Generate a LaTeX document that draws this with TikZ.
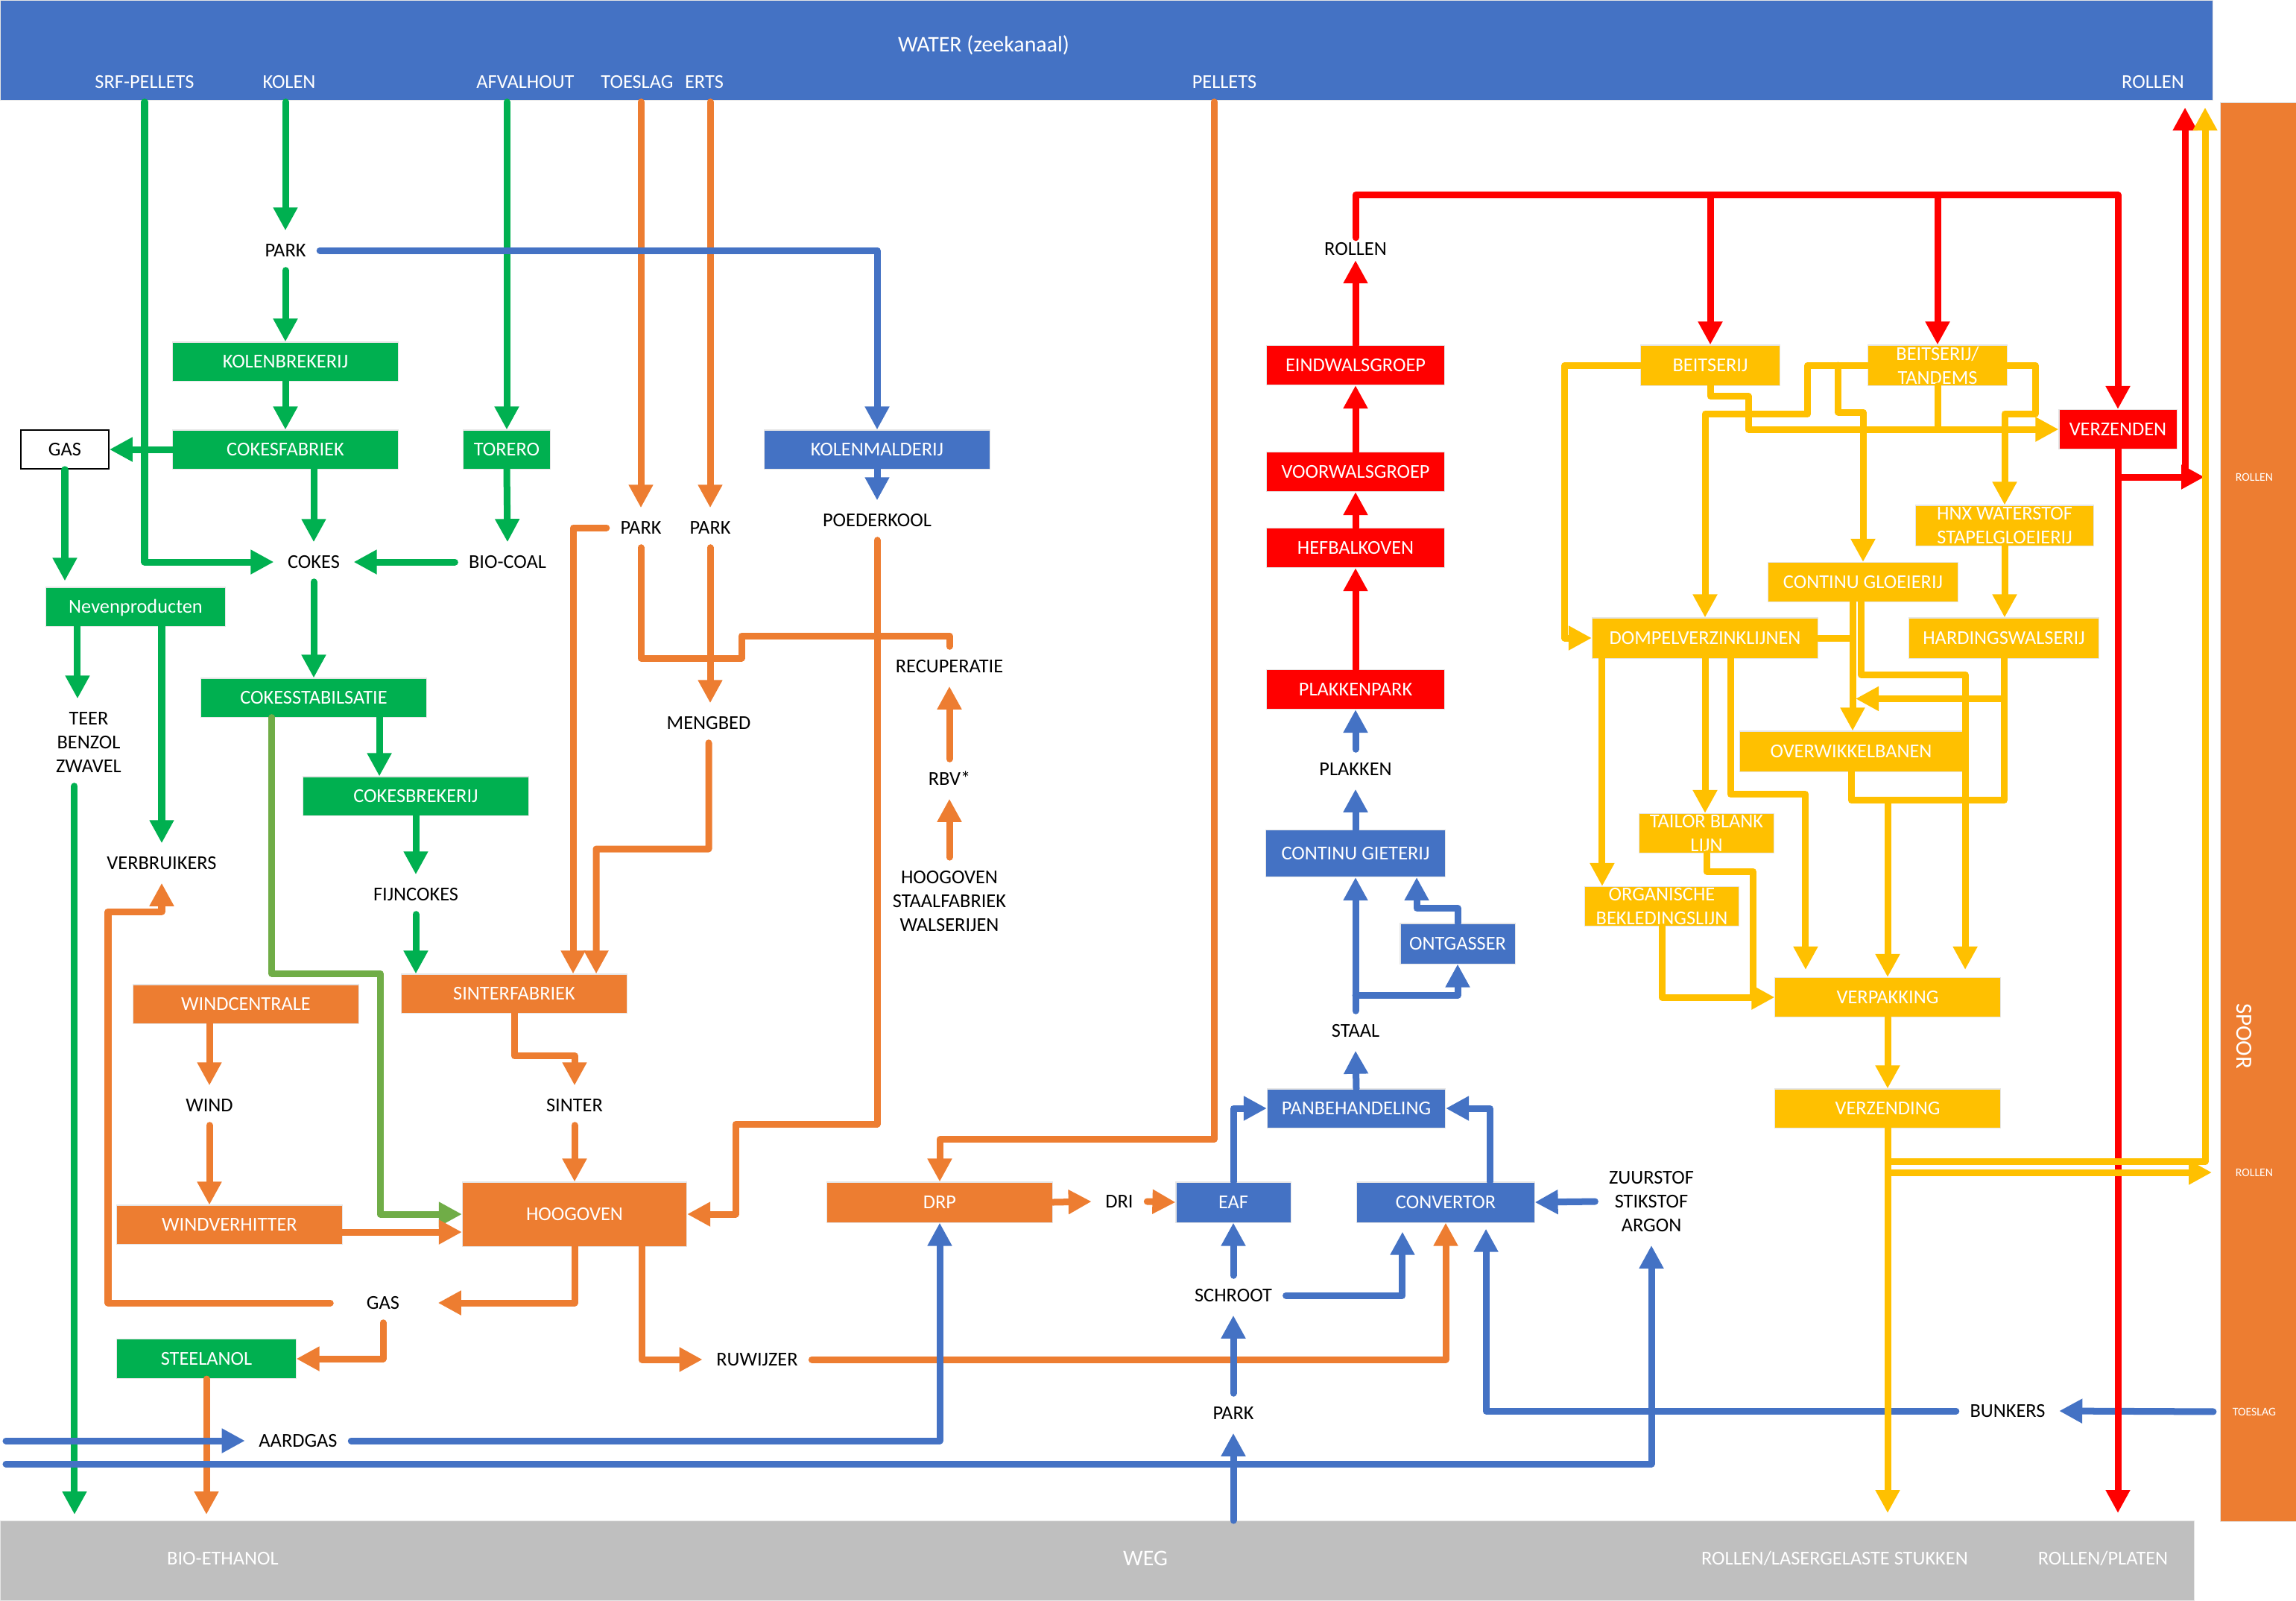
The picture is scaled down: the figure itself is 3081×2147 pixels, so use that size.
\documentclass[tikz,border=0pt]{standalone}
\usepackage{fontspec}
\setmainfont{Carlito}
\usetikzlibrary{arrows.meta}

\definecolor{waterblue}{HTML}{4472C4}
\definecolor{steelorange}{HTML}{ED7D31}
\definecolor{cokesgreen}{HTML}{00B050}
\definecolor{leafgreen}{HTML}{70AD47}
\definecolor{rollred}{HTML}{FF0000}
\definecolor{coatyellow}{HTML}{FFC000}
\definecolor{roadgrey}{HTML}{BFBFBF}

\newcommand{\diagfont}{\fontsize{7.5}{9.1}\selectfont}
\newcommand{\barfont}{\fontsize{8.5}{10}\selectfont}
\newcommand{\railfont}{\fontsize{4.5}{5.5}\selectfont}
\newcommand{\spoorfont}{\fontsize{8.8}{10}\selectfont}

\tikzset{
  plant/.style={rectangle, draw=black!10, line width=0.3pt, text=white, font=\diagfont, inner sep=0pt, text height=0.17cm, text depth=0cm, minimum height=0.53cm},
  green-plant/.style={plant, fill=cokesgreen},
  orange-plant/.style={plant, fill=steelorange},
  blue-plant/.style={plant, fill=waterblue},
  red-plant/.style={plant, fill=rollred},
  yellow-plant/.style={plant, fill=coatyellow},
  plant-text/.style={text=white, font=\diagfont, align=center, inner sep=0pt},
  product/.style={font=\diagfont, inner xsep=0.18cm, inner ysep=0.175cm, text height=0.17cm, text depth=0cm},
  products/.style={font=\diagfont, align=center, inner xsep=0.18cm, inner ysep=0.175cm},
  bar-label/.style={product, text=white},
  rail-label/.style={text=white, font=\railfont, inner sep=0pt},
  band/.style={rectangle, draw=black!10, line width=0.3pt, inner sep=0pt, anchor=north west},
  pipe/.style={line width=0.09cm, line cap=round, line join=round},
  feed/.style={pipe, -{Triangle[length=0.31cm,width=0.31cm]}},
}

\begin{document}
\begin{tikzpicture}[x=0.01cm, y=-0.01cm]
    \fill[white] (0,0) rectangle (3081,2147);
    \useasboundingbox (0,0) rectangle (3081,2147);

    %Place water band
    \node[band, fill=waterblue, minimum width=29.67cm, minimum height=1.34cm] (water) at (0,0) {};
    \node[text=white, font=\barfont] (water-title) at (1320,61) {WATER (zeekanaal)};
    \node[bar-label] (srf-pellets) at (194,110) {SRF-PELLETS};
    \node[bar-label] (kolen) at (388,110) {KOLEN};
    \node[bar-label] (afvalhout) at (705,110) {AFVALHOUT};
    \node[bar-label] (toeslag) at (855,110) {TOESLAG};
    \node[bar-label] (erts) at (945,110) {ERTS};
    \node[bar-label] (pellets) at (1643,110) {PELLETS};
    \node[bar-label] (rollen-water) at (2889,110) {ROLLEN};

    %Place rail band
    \node[band, fill=steelorange, minimum width=1.02cm, minimum height=19.03cm] (spoor) at (2979,137) {};
    \node[text=white, font=\spoorfont, rotate=-90] (spoor-title) at (3011,1390) {SPOOR};
    \node[rail-label] (rollen-spoor-1) at (3025,640) {ROLLEN};
    \node[rail-label] (rollen-spoor-2) at (3025,1573) {ROLLEN};
    \node[rail-label] (toeslag-spoor) at (3025,1894) {TOESLAG};

    %Place road band
    \node[band, fill=roadgrey, minimum width=29.42cm, minimum height=1.07cm] (weg) at (0,2040) {};
    \node[text=white, font=\diagfont] (bio-ethanol) at (299,2091) {BIO-ETHANOL};
    \node[text=white, font=\barfont] (weg-title) at (1537,2091) {WEG};
    \node[text=white, font=\diagfont] (rollen-stukken) at (2462,2091) {ROLLEN/LASERGELASTE STUKKEN};
    \node[text=white, font=\diagfont] (rollen-platen) at (2822,2091) {ROLLEN/PLATEN};

    %Place cokes nodes
    \node[product] (park-kolen) at (383,336) {PARK};
    \node[green-plant, minimum width=3.02cm, minimum height=0.52cm] (kolenbrekerij) at (383,485) {KOLENBREKERIJ};
    \node[green-plant, minimum width=3.02cm, minimum height=0.52cm] (cokesfabriek) at (383,603) {COKESFABRIEK};
    \node[green-plant, minimum width=1.17cm, minimum height=0.52cm] (torero) at (680,603) {TORERO};
    \node[rectangle, draw=black, line width=0.5pt, fill=white, font=\diagfont, text height=0.17cm, text depth=0cm, minimum width=1.18cm, minimum height=0.52cm] (gas-cokes) at (87,603) {GAS};
    \node[product] (cokes) at (421,754) {COKES};
    \node[product] (bio-coal) at (681,754) {BIO-COAL};
    \node[green-plant, minimum width=2.40cm, minimum height=0.52cm] (nevenproducten) at (182,814) {Nevenproducten};
    \node[products] (teer) at (119,996) {TEER\\BENZOL\\ZWAVEL};
    \node[green-plant, minimum width=3.02cm, minimum height=0.52cm] (cokesstabilsatie) at (421,936) {COKESSTABILSATIE};
    \node[green-plant, minimum width=3.02cm, minimum height=0.52cm] (cokesbrekerij) at (558,1068) {COKESBREKERIJ};
    \node[product] (verbruikers) at (217,1158) {VERBRUIKERS};
    \node[product] (fijncokes) at (558,1200) {FIJNCOKES};
    \node[green-plant, minimum width=2.40cm] (steelanol) at (277,1823) {STEELANOL};

    %Place iron nodes
    \node[product] (park-toeslag) at (860,708) {PARK};
    \node[product] (park-erts) at (953,708) {PARK};
    \node[blue-plant, minimum width=3.02cm, minimum height=0.52cm] (kolenmalderij) at (1177,603) {KOLENMALDERIJ};
    \node[product] (poederkool) at (1177,698) {POEDERKOOL};
    \node[product] (mengbed) at (951,970) {MENGBED};
    \node[product] (recuperatie) at (1274,894) {RECUPERATIE};
    \node[product] (rbv) at (1274,1045) {RBV*};
    \node[products] (bronnen) at (1274,1209) {HOOGOVEN\\STAALFABRIEK\\WALSERIJEN};
    \node[orange-plant, minimum width=3.03cm, minimum height=0.52cm] (windcentrale) at (330,1347) {WINDCENTRALE};
    \node[orange-plant, minimum width=3.02cm, minimum height=0.52cm] (sinterfabriek) at (690,1333) {SINTERFABRIEK};
    \node[product] (wind) at (281,1483) {WIND};
    \node[product] (sinter) at (771,1483) {SINTER};
    \node[orange-plant, minimum width=3.02cm, minimum height=0.52cm] (windverhitter) at (308,1643) {WINDVERHITTER};
    \node[orange-plant, minimum width=3.01cm, minimum height=0.86cm] (hoogoven) at (771,1629) {HOOGOVEN};
    \node[product] (gas-hoogoven) at (514,1748) {GAS};
    \node[product] (ruwijzer) at (1016,1824) {RUWIJZER};
    \node[product] (aardgas) at (400,1933) {AARDGAS};
    \coordinate (aardgas-in) at (8,1933);
    \coordinate (gassen-in) at (8,1964);

    %Place steel nodes
    \node[orange-plant, minimum width=3.02cm, minimum height=0.54cm] (drp) at (1261,1613) {DRP};
    \node[product] (dri) at (1502,1612) {DRI};
    \node[blue-plant, minimum width=1.54cm, minimum height=0.54cm] (eaf) at (1655,1613) {EAF};
    \node[blue-plant, minimum width=2.38cm, minimum height=0.54cm] (convertor) at (1940,1613) {CONVERTOR};
    \node[products] (gassen) at (2216,1612) {ZUURSTOF\\STIKSTOF\\ARGON};
    \node[product] (schroot) at (1655,1738) {SCHROOT};
    \node[product] (park-schroot) at (1655,1896) {PARK};
    \node[product] (bunkers) at (2694,1893) {BUNKERS};
    \node[blue-plant, minimum width=2.39cm, minimum height=0.52cm] (panbehandeling) at (1820,1487) {PANBEHANDELING};
    \node[product] (staal) at (1819,1383) {STAAL};
    \node[blue-plant, minimum width=1.54cm, minimum height=0.54cm] (ontgasser) at (1956,1266) {ONTGASSER};
    \node[blue-plant, minimum width=2.40cm, minimum height=0.63cm] (continu-gieterij) at (1819,1145) {CONTINU GIETERIJ};
    \node[product] (plakken) at (1819,1032) {PLAKKEN};

    %Place rolling nodes
    \node[red-plant, minimum width=2.38cm] (plakkenpark) at (1819,925) {PLAKKENPARK};
    \node[red-plant, minimum width=2.38cm] (hefbalkoven) at (1819,735) {HEFBALKOVEN};
    \node[red-plant, minimum width=2.38cm] (voorwalsgroep) at (1819,633) {VOORWALSGROEP};
    \node[red-plant, minimum width=2.38cm] (eindwalsgroep) at (1819,490) {EINDWALSGROEP};
    \node[product, inner ysep=0.06cm] (rollen) at (1819,334) {ROLLEN};
    \node[red-plant, minimum width=1.58cm] (verzenden) at (2842,576) {VERZENDEN};

    %Place finishing nodes
    \node[yellow-plant, minimum width=1.87cm, minimum height=0.54cm] (beitserij) at (2295,490) {BEITSERIJ};
    \node[yellow-plant, minimum width=1.87cm, minimum height=0.54cm] (tandems) at (2600,490) {};
    \node[plant-text] (tandems-text) at (tandems) {BEITSERIJ/\\TANDEMS};
    \node[yellow-plant, minimum width=2.39cm, minimum height=0.54cm] (hnx) at (2690,705) {};
    \node[plant-text] (hnx-text) at (hnx) {HNX WATERSTOF\\STAPELGLOEIERIJ};
    \node[yellow-plant, minimum width=2.55cm] (continu-gloeierij) at (2500,781) {CONTINU GLOEIERIJ};
    \node[yellow-plant, minimum width=3.03cm, minimum height=0.54cm] (dompelverzinklijnen) at (2288,856) {DOMPELVERZINKLIJNEN};
    \node[yellow-plant, minimum width=2.54cm, minimum height=0.54cm] (hardingswalserij) at (2689,856) {HARDINGSWALSERIJ};
    \node[yellow-plant, minimum width=2.98cm, minimum height=0.54cm] (overwikkelbanen) at (2484,1008) {OVERWIKKELBANEN};
    \node[yellow-plant, minimum width=1.81cm] (tailor-blank) at (2290,1118) {};
    \node[plant-text] (tailor-blank-text) at (tailor-blank) {TAILOR BLANK\\LIJN};
    \node[yellow-plant, minimum width=2.06cm] (organische) at (2230,1216) {};
    \node[plant-text] (organische-text) at (organische) {ORGANISCHE\\BEKLEDINGSLIJN};
    \node[yellow-plant, minimum width=3.02cm] (verpakking) at (2533,1338) {VERPAKKING};
    \node[yellow-plant, minimum width=3.02cm, minimum height=0.52cm] (verzending) at (2533,1487) {VERZENDING};

    %Draw green arrows
    \draw[feed, cokesgreen] (kolen.south -| park-kolen.north) -- (park-kolen.north);
    \draw[feed, cokesgreen] (park-kolen.south) -- (kolenbrekerij.north);
    \draw[feed, cokesgreen] (kolenbrekerij.south) -- (cokesfabriek.north);
    \draw[feed, cokesgreen] (cokesfabriek.west) -- (gas-cokes.east);
    \draw[feed, cokesgreen] (srf-pellets.south) |- (cokes.west);
    \draw[feed, cokesgreen] (cokesfabriek.south -| cokes.north) -- (cokes.north);
    \draw[feed, cokesgreen] (afvalhout.south -| torero.north) -- (torero.north);
    \draw[feed, cokesgreen] (torero.south) -- (bio-coal.north);
    \draw[feed, cokesgreen] (bio-coal.west) -- (cokes.east);
    \draw[feed, cokesgreen, shorten >=0.08cm] (gas-cokes.south) -- (gas-cokes.south |- nevenproducten.north);
    \draw[feed, cokesgreen] ([xshift=-0.15cm]teer.north |- nevenproducten.south) -- ([xshift=-0.15cm]teer.north);
    \draw[feed, cokesgreen] (verbruikers.north |- nevenproducten.south) -- (verbruikers.north);
    \draw[feed, cokesgreen, shorten >=0.08cm] ([xshift=-0.19cm]teer.south) -- ([xshift=-0.19cm]teer.south |- weg.north);
    \draw[feed, cokesgreen] (cokes.south) -- (cokesstabilsatie.north);
    \draw[feed, cokesgreen] ([xshift=0.88cm]cokesstabilsatie.south) -- ([xshift=0.88cm]cokesstabilsatie.south |- cokesbrekerij.north);
    \draw[feed, cokesgreen] (cokesbrekerij.south) -- (fijncokes.north);
    \draw[feed, cokesgreen] (fijncokes.south) -- (fijncokes.south |- sinterfabriek.north);
    \draw[feed, leafgreen] ([xshift=-0.56cm]cokesstabilsatie.south) |- (510,1306) |- (hoogoven.west);

    %Draw orange arrows
    \draw[feed, steelorange] (toeslag.south -| park-toeslag.north) -- (park-toeslag.north);
    \draw[feed, steelorange] (erts.south -| park-erts.north) -- (park-erts.north);
    \draw[feed, steelorange] (park-erts.south) -- (park-erts.south |- mengbed.north);
    \draw[pipe, steelorange] (park-toeslag.south) |- (953,883);
    \draw[pipe, steelorange] (recuperatie.north) |- (995,853) |- (953,883);
    \draw[feed, steelorange] (poederkool.south) |- (987,1508) |- (hoogoven.east);
    \draw[feed, steelorange] (park-toeslag.west) -| ([xshift=0.79cm]sinterfabriek.north);
    \draw[feed, steelorange] (mengbed.south) |- (800,1139) -- ([xshift=1.1cm]sinterfabriek.north);
    \draw[feed, steelorange] (sinterfabriek.south) -- ++(0,57) -| (sinter.north);
    \draw[feed, steelorange] (sinter.south) -- (hoogoven.north);
    \draw[feed, steelorange] (windcentrale.south -| wind.north) -- (wind.north);
    \draw[feed, steelorange] (wind.south) -- (wind.south |- windverhitter.north);
    \draw[feed, steelorange] ([yshift=-0.1cm]windverhitter.east) -- ([yshift=-0.1cm]windverhitter.east -| hoogoven.west);
    \draw[feed, steelorange, shorten >=0.33cm] (hoogoven.south) |- (gas-hoogoven.east);
    \draw[feed, steelorange, shorten <=0.3cm] (gas-hoogoven.west) -| (145,1223) -| (verbruikers.south);
    \draw[feed, steelorange] (gas-hoogoven.south) |- (steelanol.east);
    \draw[feed, steelorange, shorten >=0.08cm] (steelanol.south) -- (steelanol.south |- weg.north);
    \draw[feed, steelorange] ([xshift=0.9cm]hoogoven.south) |- (ruwijzer.west);
    \draw[feed, steelorange] (ruwijzer.east) -| (convertor.south);
    \draw[feed, steelorange] (rbv.north) -- (recuperatie.south);
    \draw[feed, steelorange] (bronnen.north) -- (rbv.south);
    \draw[feed, steelorange] ([xshift=-0.14cm]pellets.south) |- ([yshift=0.57cm]drp.north) -- (drp.north);
    \draw[feed, steelorange] (drp.east) -- (dri.west);
    \draw[feed, steelorange] (dri.east) -- (eaf.west);

    %Draw blue arrows
    \draw[feed, waterblue] (park-kolen.east) -| (kolenmalderij.north);
    \draw[feed, waterblue] (kolenmalderij.south) -- (poederkool.north);
    \draw[feed, waterblue] (aardgas-in) -- (aardgas.west);
    \draw[feed, waterblue] (aardgas.east) -| (drp.south);
    \draw[feed, waterblue] (gassen-in) -| (gassen.south);
    \draw[feed, waterblue] (weg.north -| park-schroot.south) -- (park-schroot.south);
    \draw[feed, waterblue] (park-schroot.north) -- (schroot.south);
    \draw[feed, waterblue] (schroot.north) -- (eaf.south);
    \draw[feed, waterblue, shorten >=0.12cm] (schroot.east) -| ([xshift=-0.58cm]convertor.south);
    \draw[feed, waterblue, shorten >=0.08cm] (bunkers.west) -| ([xshift=0.54cm]convertor.south);
    \draw[feed, waterblue, shorten <=0.09cm] (spoor.west |- toeslag-spoor) -- (bunkers.east);
    \draw[feed, waterblue] (gassen.west) -- (convertor.east);
    \draw[feed, waterblue] (eaf.north) |- (panbehandeling.west);
    \draw[feed, waterblue] ([xshift=0.59cm]convertor.north) |- (panbehandeling.east);
    \draw[feed, waterblue] (panbehandeling.north) -- (staal.south);
    \draw[feed, waterblue] (staal.north) -- (continu-gieterij.south);
    \draw[feed, waterblue] ([yshift=0.21cm]staal.north) -| (ontgasser.south);
    \draw[feed, waterblue] (ontgasser.north) -- ++(0,-20) -| ([xshift=0.82cm]continu-gieterij.south);
    \draw[feed, waterblue] (continu-gieterij.north) -- (plakken.south);
    \draw[feed, waterblue] (plakken.north) -- (plakkenpark.south);

    %Draw red arrows
    \draw[feed, rollred] (plakkenpark.north) -- (hefbalkoven.south);
    \draw[feed, rollred] (hefbalkoven.north) -- (voorwalsgroep.south);
    \draw[feed, rollred] (voorwalsgroep.north) -- (eindwalsgroep.south);
    \draw[feed, rollred] (eindwalsgroep.north) -- (rollen.south);
    \coordinate (rollen-top) at ([yshift=0.57cm]rollen.north);
    \draw[feed, rollred] (rollen.north) -- (rollen-top) -| (verzenden.north);
    \draw[feed, rollred] (rollen-top -| beitserij.north) -- (beitserij.north);
    \draw[feed, rollred] (rollen-top -| tandems.north) -- (tandems.north);
    \draw[feed, rollred, shorten >=0.21cm] (verzenden.south) |- (spoor.west |- rollen-spoor-1);
    \draw[feed, rollred, shorten >=0.09cm] ([xshift=0.9cm]verzenden.south |- rollen-spoor-1) -- ([xshift=0.9cm]verzenden.south |- water.south);
    \draw[feed, rollred, shorten >=0.1cm] (verzenden.south) -- (verzenden.south |- weg.north);

    %Draw yellow arrows
    \draw[feed, coatyellow] (beitserij.west) -- ++(-101,0) |- (dompelverzinklijnen.west);
    \draw[feed, coatyellow] (beitserij.south) -- ++(0,14) -- ++(51,0) |- (verzenden.west);
    \draw[pipe, coatyellow] (tandems.south) -- (tandems.south |- verzenden.west);
    \draw[feed, coatyellow] (tandems.west) -- ++(-80,0) -- ++(0,65) -| (dompelverzinklijnen.north);
    \draw[feed, coatyellow] ([xshift=-0.39cm]tandems.west) -- ++(0,63) -| (continu-gloeierij.north);
    \draw[feed, coatyellow] (tandems.east) -- ++(37,0) -- ++(0,65) -| (hnx.north);
    \draw[feed, coatyellow] (hnx.south) -- (hnx.south |- hardingswalserij.north);
    \draw[feed, coatyellow] ([xshift=-0.14cm]continu-gloeierij.south) -- ([xshift=-0.14cm]continu-gloeierij.south |- overwikkelbanen.north);
    \draw[pipe, coatyellow] (dompelverzinklijnen.east) -- ([xshift=-0.14cm]continu-gloeierij.south |- dompelverzinklijnen.east);
    \draw[feed, coatyellow, shorten >=0.1cm] ([xshift=-0.03cm]continu-gloeierij.south) -- ++(0,97) -| ([xshift=1.04cm]verpakking.north);
    \draw[feed, coatyellow] (hardingswalserij.south) |- ([xshift=0.06cm, yshift=0.43cm]overwikkelbanen.north);
    \draw[pipe, coatyellow] (hardingswalserij.south) |- ([yshift=2.37cm]verpakking.north);
    \draw[feed, coatyellow] (overwikkelbanen.south) |- ([yshift=2.37cm]verpakking.north) -- (verpakking.north);
    \draw[feed, coatyellow] ([xshift=-1.38cm]dompelverzinklijnen.south) -- ([xshift=-1.38cm]dompelverzinklijnen.south |- organische.north);
    \draw[feed, coatyellow] (dompelverzinklijnen.south) -- (dompelverzinklijnen.south |- tailor-blank.north);
    \draw[feed, coatyellow, shorten >=0.1cm] ([xshift=0.34cm]dompelverzinklijnen.south) -- ++(0,182) -| ([xshift=-1.1cm]verpakking.north);
    \draw[feed, coatyellow] (tailor-blank.south) -- ++(0,24) -- ++(62,0) |- (verpakking.west);
    \draw[pipe, coatyellow] (organische.south) |- ([xshift=-0.3cm]verpakking.west);
    \draw[feed, coatyellow] (verpakking.south) -- (verzending.north);
    \draw[feed, coatyellow, shorten >=0.09cm] (verzending.south) -- ++(0,45) -| ([xshift=-0.2cm]spoor.west |- water.south);
    \draw[feed, coatyellow, shorten >=0.11cm] (verzending.south) |- (spoor.west |- rollen-spoor-2);
    \draw[feed, coatyellow, shorten >=0.1cm] (verzending.south) -- (verzending.south |- weg.north);
\end{tikzpicture}
\end{document}
